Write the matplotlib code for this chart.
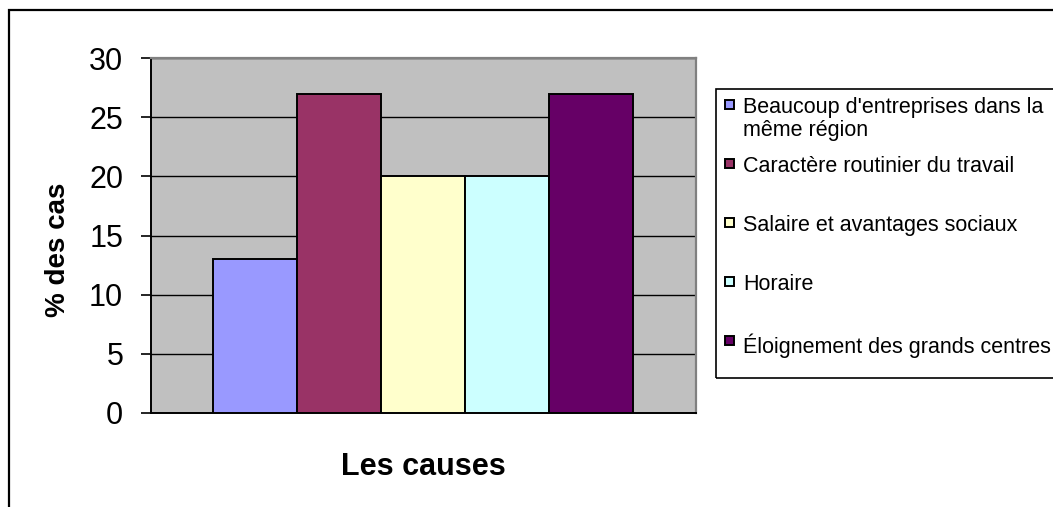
#!/usr/bin/env python3
"""
Graphique en barres - causes (% des cas), style Excel
"""

import numpy as np
import matplotlib
matplotlib.use('Agg')
import matplotlib.pyplot as plt
from matplotlib.patches import Rectangle

plt.rcParams['font.family'] = ['Liberation Sans', 'DejaVu Sans']

# Données
causes = [
    "Beaucoup d'entreprises dans la\nmême région",
    "Caractère routinier du travail",
    "Salaire et avantages sociaux",
    "Horaire",
    "Éloignement des grands centres",
]
pourcentages = [13, 27, 20, 20, 27]
couleurs = ['#9999FF', '#993366', '#FFFFCC', '#CCFFFF', '#660066']
yticks = [0, 5, 10, 15, 20, 25, 30]

W, H = 1053, 507

def fx(px):
    return px / W

def fy(py):
    return 1 - py / H

fig = plt.figure(figsize=(W / 100, H / 100), dpi=100)

# Cadre extérieur du graphique (coupé à droite et en bas)
fig.add_artist(Rectangle((fx(9), -0.2), 1.2, fy(10) + 0.2, transform=fig.transFigure,
                         fill=False, edgecolor='black', linewidth=1.6))

ax = fig.add_axes([fx(151), fy(413), fx(696) - fx(151), fy(58) - fy(413)])
ax.set_facecolor('#C0C0C0')

x = np.arange(len(pourcentages)) - (len(pourcentages) - 1) / 2
ax.bar(x, pourcentages, width=1.0, color=couleurs, edgecolor='black', linewidth=1.4, zorder=3)

ax.set_xlim(-3.24, 3.25)
ax.set_ylim(0, 30)
ax.set_yticks(yticks)
ax.set_xticks([])
ax.yaxis.grid(True, color='black', linewidth=1.0)
ax.set_axisbelow(True)

ax.tick_params(axis='y', direction='out', length=7.5, width=1.2, pad=12.5, labelsize=22)
for side in ['left', 'bottom']:
    ax.spines[side].set_color('black')
    ax.spines[side].set_linewidth(1.4)
for side in ['top', 'right']:
    ax.spines[side].set_color('#808080')
    ax.spines[side].set_linewidth(1.6)

ax.set_ylabel('% des cas', fontsize=20, fontweight='bold')
ax.yaxis.set_label_coords(-0.17, 0.46)
ax.yaxis.label.set(va='center', ha='center')
ax.set_xlabel('Les causes', fontsize=22, fontweight='bold')
ax.xaxis.set_label_coords(0.5, -0.152)
ax.xaxis.label.set(va='center', ha='center')

# Légende faite à la main (style Excel, coupée à droite)
fig.add_artist(Rectangle((fx(716), fy(378)), 0.5, fy(89) - fy(378), transform=fig.transFigure,
                         fill=False, edgecolor='black', linewidth=1.2))
for i, (lab, col) in enumerate(zip(causes, couleurs)):
    yc = 104 + 59 * i
    fig.add_artist(Rectangle((fx(725), fy(yc + 4.5)), fx(8.5), fy(yc - 4) - fy(yc + 4.5),
                             transform=fig.transFigure, facecolor=col,
                             edgecolor='black', linewidth=1.4))
    fig.text(fx(743), fy(yc - 7), lab, fontsize=15.5, ha='left', va='top',
             linespacing=1.15)

fig.savefig('out.png', dpi=100)
